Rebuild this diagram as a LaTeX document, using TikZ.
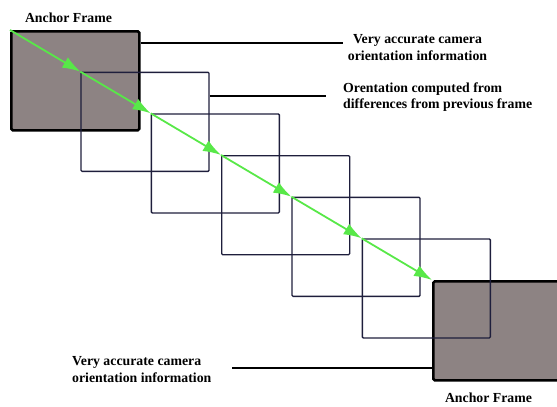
\documentclass[tikz,border=0pt]{standalone}
\usepackage{fontspec}
\setmainfont{Liberation Serif}
\usetikzlibrary{arrows.meta}
\definecolor{framecol}{RGB}{30,30,60}
\definecolor{anchorfill}{RGB}{141,131,131}
\definecolor{pathgreen}{RGB}{88,232,72}
\tikzset{
  frm/.style={draw=framecol, line width=1.3pt, rounded corners=1pt, anchor=north west,
    inner sep=0pt, minimum width=128pt, minimum height=99pt},
  anchorframe/.style={draw=black, fill=anchorfill, line width=2.6pt, rounded corners=1.5pt,
    anchor=north west, inner sep=0pt, minimum width=128pt, minimum height=99pt},
  hop/.style={draw=pathgreen, line width=1.8pt, -{Latex[length=18pt,width=12pt]}},
  lead/.style={draw=black, line width=1.2pt},
  lbl/.style={inner sep=0pt, font=\fontsize{13.8}{16.5}\selectfont\bfseries},
}
\begin{document}
\begin{tikzpicture}[x=1pt,y=-1pt]
\useasboundingbox (0,0) rectangle (557,407);
\clip (0,0) rectangle (557,407);
% the two anchor frames
\node[anchorframe] (a1) at (10,30) {};
\node[anchorframe] (a2) at (432,280) {};
% intermediate frames
\node[frm] (f2) at (80.4,71.7) {};
\node[frm] (f3) at (150.7,113.3) {};
\node[frm] (f4) at (221,155) {};
\node[frm] (f5) at (291.4,196.7) {};
\node[frm] (f6) at (361.7,238.3) {};
% camera path through the frame corners
\draw[hop] (a1.north west) -- (f2.north west);
\draw[hop] (f2.north west) -- (f3.north west);
\draw[hop] (f3.north west) -- (f4.north west);
\draw[hop] (f4.north west) -- (f5.north west);
\draw[hop] (f5.north west) -- (f6.north west);
\draw[hop] (f6.north west) -- (a2.north west);
% labels
\node[lbl] (t1) at (68.5,17.5) {Anchor Frame};
\node[lbl] (t2) at (488.5,397.5) {Anchor Frame};
\node[lbl, align=center] (l1) at (417.5,47.5) {Very accurate camera\\orientation information};
\node[lbl, align=left, anchor=west] (l2) at (343,97) {Orentation computed from\\differences from previous frame};
\node[lbl, align=left, anchor=west] (l3) at (72,369.5) {Very accurate camera\\orientation information};
% leader lines
\coordinate (e1) at (343,43);
\coordinate (e2) at (326,96);
\coordinate (e3) at (232,368);
\draw[lead] (a1.east |- e1) -- (e1);
\draw[lead] (f2.east |- e2) -- (e2);
\draw[lead] (a2.west |- e3) -- (e3);
\end{tikzpicture}
\end{document}
